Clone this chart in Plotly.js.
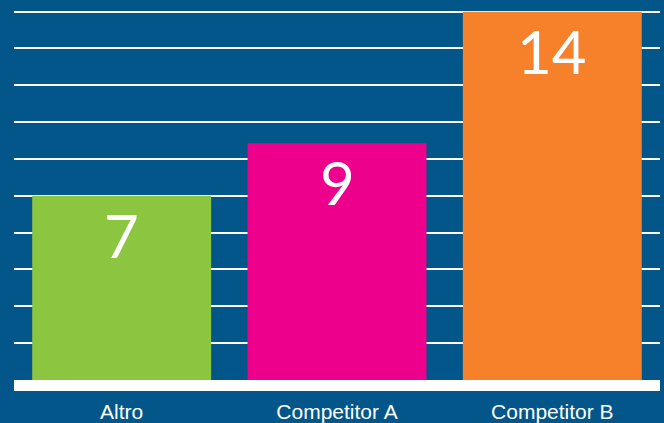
<!DOCTYPE html>
<html>
<head>
<meta charset="utf-8">
<script src="https://cdn.plot.ly/plotly-3.0.1.min.js"></script>
<style>
html,body{margin:0;padding:0;background:#02568a;}
#chart{width:664px;height:423px;}
</style>
</head>
<body>
<div id="chart"></div>
<script>
const categories = ["Altro", "Competitor A", "Competitor B"];
const values = [7, 9, 14];
const barColors = ["#8cc540", "#ec008c", "#f6812a"];

const trace = {
  type: "bar",
  x: categories,
  y: values,
  marker: {color: barColors, line: {width: 0}},
  hoverinfo: "none"
};

const annotations = categories.map((c, i) => ({
  x: c, y: values[i], xref: "x", yref: "y",
  text: String(values[i]),
  showarrow: false,
  yanchor: "top",
  yshift: -1,
  font: {family: "Lato, 'Open Sans', sans-serif", size: 60, color: "#ffffff"}
}));

const layout = {
  width: 664, height: 423,
  margin: {l: 14, r: 4, t: 9, b: 43},
  paper_bgcolor: "#02568a",
  plot_bgcolor: "#02568a",
  bargap: 0.169,
  showlegend: false,
  xaxis: {
    showgrid: false,
    showline: true, linecolor: "#ffffff", linewidth: 11,
    ticks: "",
    ticklabelstandoff: 3,
    tickfont: {family: "'Liberation Sans', Arial, sans-serif", size: 21, color: "#ffffff"},
    fixedrange: true
  },
  yaxis: {
    range: [0, 14.1],
    tickmode: "linear", tick0: 0, dtick: 1.4,
    showgrid: true, gridcolor: "#ffffff", gridwidth: 2,
    zeroline: false,
    showticklabels: false, ticks: "",
    fixedrange: true
  },
  annotations: annotations
};

Plotly.newPlot("chart", [trace], layout, {displayModeBar: false, staticPlot: true});
</script>
</body>
</html>
